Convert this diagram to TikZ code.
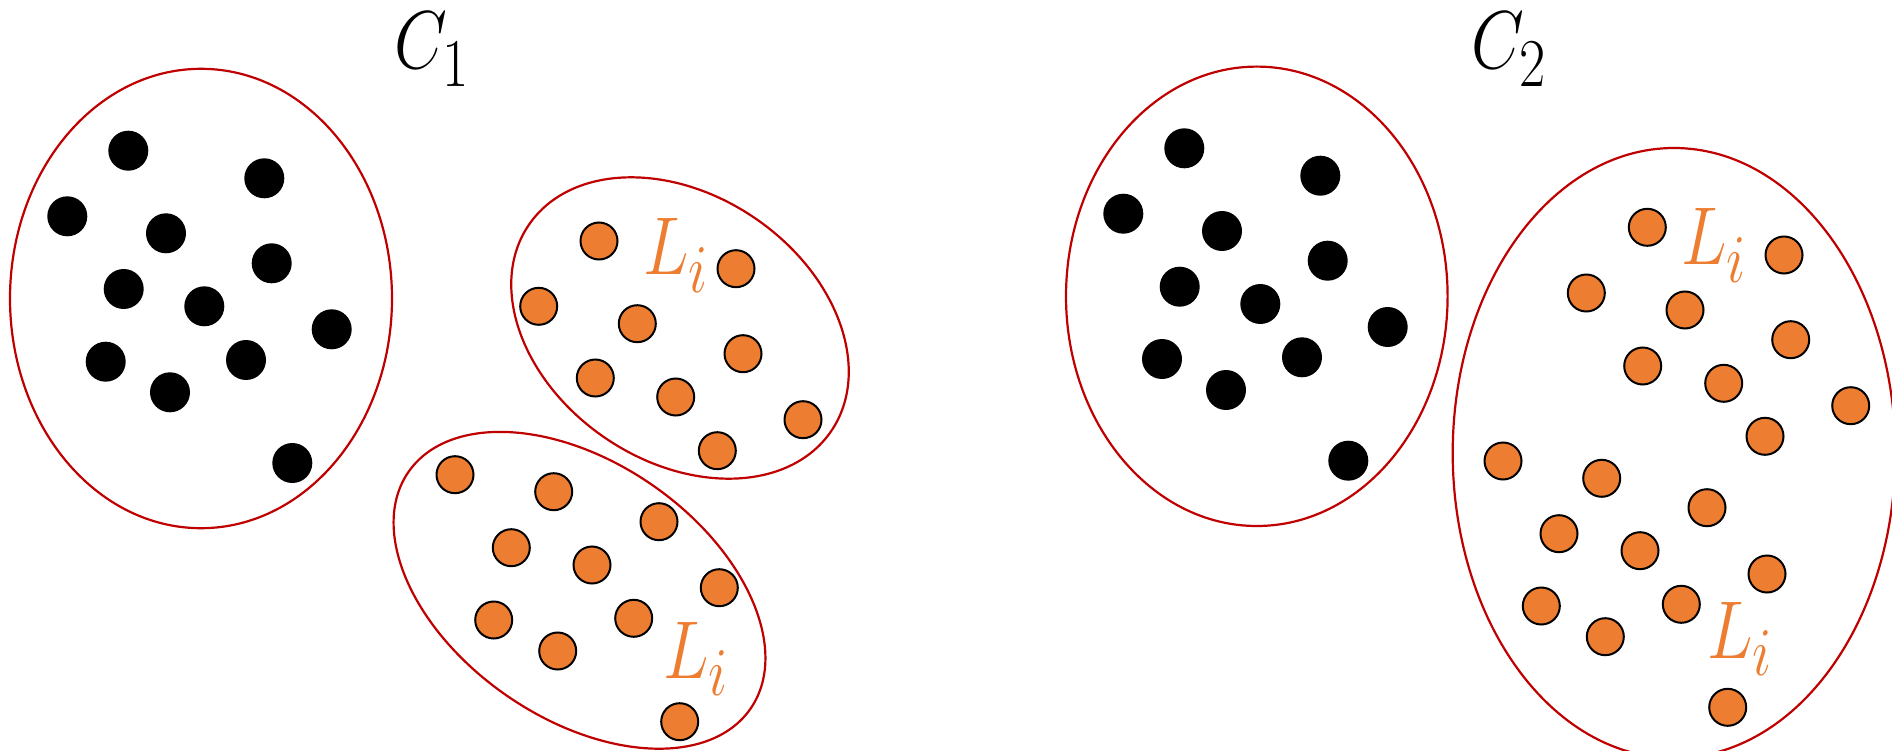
\documentclass[tikz,border=0pt]{standalone}
\definecolor{ellred}{HTML}{C00000}
\definecolor{dotorange}{HTML}{ED7D31}
\tikzset{
  blackdot/.style={circle, fill=black, draw=none, minimum size=40pt, inner sep=0pt},
  orangedot/.style={circle, fill=dotorange, draw=black, line width=2pt, minimum size=37pt, inner sep=0pt},
  group/.style={draw=ellred, line width=2.2pt},
  clabel/.style={inner sep=0pt, anchor=base west, font=\Huge},
  llabel/.style={clabel, text=dotorange}
}
\newcommand{\biglbl}[2]{\scalebox{2.75}[3.3]{$#1_{\raisebox{-1.6pt}{$\scriptstyle #2$}}$}}
\begin{document}
\begin{tikzpicture}[x=1pt,y=-1pt]
\clip (0,0) rectangle (1892,751);
\fill[white] (0,0) rectangle (1892,751);
% group ellipses
\draw[group] (201,298.5) ellipse [x radius=191pt, y radius=229.7pt];
\draw[group] (1256.8,296.3) ellipse [x radius=190.8pt, y radius=229.7pt];
\draw[group, rotate around={-34.3:(680,328)}] (680,328) ellipse [x radius=183pt, y radius=133pt];
\draw[group, rotate around={-34.7:(579.5,590.3)}] (579.5,590.3) ellipse [x radius=208pt, y radius=128pt];
\draw[group] (1674,453) ellipse [x radius=221.3pt, y radius=305pt];
% black dots, cluster C1
\foreach \x/\y [count=\i] in {128.3/150.7, 264.3/178.3, 67.3/216.3, 166/233.3, 271.7/263.3, 123.7/289, 204.3/306.3, 331.7/329.3, 105.7/361.7, 246/360, 170/392.3, 292.3/463}
  \node[blackdot] (p\i) at (\x,\y) {};
% black dots, cluster C2
\foreach \x/\y [count=\i] in {1184.3/148.3, 1320.3/175.7, 1123.3/213.7, 1222/231, 1327.7/260.7, 1179.7/286.7, 1260.3/304, 1387.7/327, 1162/359, 1302/357.3, 1226/390, 1348.3/460.7}
  \node[blackdot] (q\i) at (\x,\y) {};
% orange dots, upper L group of C1
\foreach \x/\y [count=\i] in {599/241, 736/268.7, 538.7/306.3, 637.3/323.7, 743/353.7, 595.3/378, 675.7/397, 803/419.7, 717.3/450.7}
  \node[orangedot] (u\i) at (\x,\y) {};
% orange dots, lower L group of C1
\foreach \x/\y [count=\i] in {455/474.7, 553.7/491.7, 659/521.7, 511.3/547.7, 592/565, 719.3/587.7, 493.7/620, 633.7/618.3, 557.7/651, 679.7/721.7}
  \node[orangedot] (w\i) at (\x,\y) {};
% orange dots, C2 large group
\foreach \x/\y [count=\i] in {1647.3/227.3, 1784/255, 1586.3/293, 1685/310, 1790.7/339.7, 1642.7/366, 1723.7/383.3, 1850.7/405.7, 1765/436.3, 1503/461, 1601.7/478.3, 1707/507.7, 1559/533.7, 1640/550.7, 1767/574, 1541.3/606, 1681.3/604.3, 1605.3/636.7, 1727.7/707.3}
  \node[orangedot] (v\i) at (\x,\y) {};
% labels
\node[clabel] (c1) at (394,69) {\biglbl{C}{1}};
\node[clabel] (c2) at (1471,69) {\biglbl{C}{2}};
\node[llabel] (l1) at (643,275) {\biglbl{L}{i}};
\node[llabel] (l2) at (663,678) {\biglbl{L}{i}};
\node[llabel] (l3) at (1681,265) {\biglbl{L}{i}};
\node[llabel] (l4) at (1707,658) {\biglbl{L}{i}};
\end{tikzpicture}
\end{document}
